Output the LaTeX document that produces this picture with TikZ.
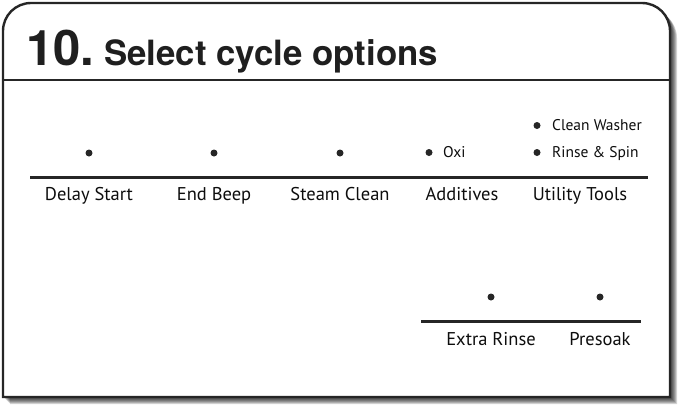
\documentclass[tikz,border=0pt]{standalone}
\usepackage{fontspec}
\setmainfont{PT Sans}
\newfontfamily\titlefont{TeX Gyre Heros}
\begin{document}
\begin{tikzpicture}[x=1pt,y=-1pt,
  frame/.style={draw=black!85,line width=2.4pt},
  rule/.style={draw=black!85,line width=2.2pt},
  dot/.style={circle,fill=black!85,inner sep=0pt,minimum size=7pt},
  lbl/.style={anchor=base,inner sep=0pt,font=\fontsize{18.5}{21}\selectfont,text=black!95},
  opt/.style={anchor=base west,inner sep=0pt,font=\fontsize{15.5}{18}\selectfont,text=black!95}]
\useasboundingbox (0,0) rectangle (686,408);
% shadow
\foreach \i in {1,...,7}{
  \fill[black,opacity=0.17,shift={(\i*1pt,-\i*1pt)}]
    (3,397) [rounded corners=28pt] -- (3,3) -- (670,3) [sharp corners] -- (670,397) -- cycle;
}
% frame
\filldraw[frame,fill=white]
  (3,397) [rounded corners=28pt] -- (3,3) -- (670,3) [sharp corners] -- (670,397) -- cycle;
% title
\node[anchor=base west,inner sep=0pt,font=\titlefont\bfseries\fontsize{49}{50}\selectfont,text=black!88] (num) at (26,65) {10.};
\node[anchor=base west,inner sep=0pt,font=\titlefont\bfseries\fontsize{34.8}{36}\selectfont,text=black!88] (title) at (104,65) {Select cycle options};
\coordinate (tl) at (3,79.5);
\coordinate (tr) at (670,79.5);
\draw[rule,line width=2pt] (tl) -- (tr);
% first row
\coordinate (l1a) at (30,177.5);
\coordinate (l1b) at (648,177.5);
\draw[rule] (l1a) -- (l1b);
\node[dot] (d1) at (89,153) {};
\node[dot] (d2) at (214,153) {};
\node[dot] (d3) at (340,153) {};
\node[dot] (d4) at (429,152.5) {};
\node[dot] (d5) at (537,152.5) {};
\node[dot] (d6) at (537,125.5) {};
\node[opt] (oxi) at (443,157.5) {Oxi};
\node[opt] (rs) at (552,157.5) {Rinse \& Spin};
\node[opt] (cw) at (552,130.5) {Clean Washer};
\node[lbl] (t1) at (89,200.5) {Delay Start};
\node[lbl] (t2) at (214,200.5) {End Beep};
\node[lbl] (t3) at (340,200.5) {Steam Clean};
\node[lbl] (t4) at (462,200.5) {Additives};
\node[lbl] (t5) at (580,200.5) {Utility Tools};
% second row
\coordinate (l2a) at (421,321.5);
\coordinate (l2b) at (641,321.5);
\draw[rule] (l2a) -- (l2b);
\node[dot] (d7) at (491,297) {};
\node[dot] (d8) at (600,297) {};
\node[lbl] (t6) at (491,345) {Extra Rinse};
\node[lbl] (t7) at (600,345) {Presoak};
\end{tikzpicture}
\end{document}
